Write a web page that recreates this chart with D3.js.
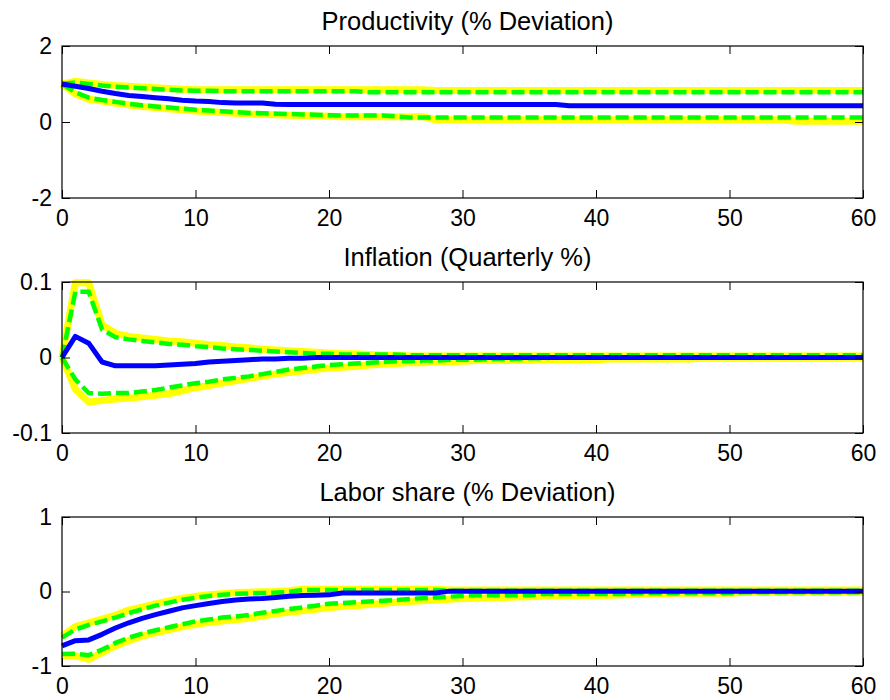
<!DOCTYPE html>
<html>
<head>
    <meta charset="utf-8" />
    <title>Impulse responses</title>
    <script src="https://d3js.org/d3.v7.min.js"></script>
    <style>
        body { margin: 0; background: #fff; }
        text { font-family: "Liberation Sans", Arial, sans-serif; fill: #000; }
    </style>
</head>
<body>
    <svg id="chart" width="890" height="700"></svg>

    <script>
        // horizon 0..60 (quarters)
        var horizon = d3.range(0, 61);
        var xTicks = [0, 10, 20, 30, 40, 50, 60];

        var titles = ["Productivity (% Deviation)", "Inflation (Quarterly %)", "Labor share (% Deviation)"];

        // --- productivity ---
        var prodMedian = [1.00, 0.94, 0.88, 0.81, 0.75, 0.70, 0.67, 0.64, 0.61, 0.57,
            0.55, 0.54, 0.51, 0.50, 0.50, 0.50, 0.47, 0.46, 0.46, 0.46,
            0.46, 0.46, 0.46, 0.46, 0.46, 0.46, 0.46, 0.46, 0.46, 0.46,
            0.46, 0.46, 0.46, 0.46, 0.46, 0.46, 0.46, 0.46, 0.43, 0.43,
            0.43, 0.43, 0.43, 0.43, 0.43, 0.43, 0.43, 0.43, 0.43, 0.43,
            0.43, 0.43, 0.43, 0.43, 0.43, 0.43, 0.43, 0.43, 0.43, 0.43, 0.43];
        var prodGreenHi = [1.00, 1.04, 1.00, 0.96, 0.93, 0.91, 0.89, 0.87, 0.85, 0.83,
            0.82, 0.82, 0.81, 0.81, 0.81, 0.81, 0.81, 0.81, 0.81, 0.81,
            0.81, 0.81, 0.81, 0.78, 0.78, 0.78, 0.78, 0.78, 0.78, 0.78,
            0.78, 0.78, 0.78, 0.78, 0.78, 0.78, 0.78, 0.78, 0.78, 0.78,
            0.78, 0.78, 0.78, 0.78, 0.78, 0.78, 0.78, 0.78, 0.78, 0.78,
            0.78, 0.78, 0.78, 0.78, 0.78, 0.78, 0.78, 0.78, 0.78, 0.78, 0.78];
        var prodGreenLo = [1.00, 0.78, 0.64, 0.58, 0.53, 0.48, 0.44, 0.41, 0.38, 0.35,
            0.32, 0.30, 0.28, 0.26, 0.24, 0.23, 0.22, 0.21, 0.20, 0.19,
            0.18, 0.17, 0.17, 0.17, 0.17, 0.15, 0.12, 0.12, 0.12, 0.12,
            0.12, 0.12, 0.12, 0.12, 0.12, 0.12, 0.12, 0.12, 0.12, 0.12,
            0.12, 0.12, 0.12, 0.12, 0.12, 0.12, 0.12, 0.12, 0.12, 0.12,
            0.12, 0.12, 0.12, 0.12, 0.12, 0.12, 0.12, 0.12, 0.12, 0.12, 0.12];
        var prodYellowHi = [1.00, 1.07, 1.03, 0.99, 0.96, 0.94, 0.92, 0.90, 0.88, 0.86,
            0.85, 0.85, 0.85, 0.85, 0.85, 0.85, 0.85, 0.85, 0.85, 0.85,
            0.85, 0.85, 0.85, 0.85, 0.85, 0.85, 0.85, 0.85, 0.83, 0.83,
            0.83, 0.83, 0.83, 0.83, 0.83, 0.83, 0.83, 0.83, 0.83, 0.83,
            0.83, 0.83, 0.83, 0.83, 0.83, 0.83, 0.83, 0.83, 0.83, 0.83,
            0.83, 0.83, 0.83, 0.83, 0.83, 0.83, 0.83, 0.83, 0.83, 0.83, 0.83];
        var prodYellowLo = [1.00, 0.74, 0.60, 0.55, 0.50, 0.45, 0.41, 0.38, 0.35, 0.32,
            0.29, 0.27, 0.25, 0.23, 0.21, 0.20, 0.19, 0.18, 0.17, 0.16,
            0.15, 0.14, 0.14, 0.14, 0.14, 0.14, 0.14, 0.14, 0.06, 0.06,
            0.06, 0.06, 0.06, 0.06, 0.06, 0.06, 0.06, 0.06, 0.06, 0.06,
            0.06, 0.06, 0.06, 0.06, 0.06, 0.06, 0.06, 0.06, 0.06, 0.06,
            0.06, 0.06, 0.06, 0.06, 0.06, 0.02, 0.02, 0.02, 0.02, 0.02, 0.02];

        // --- inflation ---
        var inflMedian = [0, 0.028, 0.019, -0.006, -0.011, -0.011, -0.011, -0.011, -0.010, -0.009,
            -0.008, -0.006, -0.005, -0.004, -0.003, -0.002, -0.002, -0.001, -0.001, 0,
            0, 0, 0, 0, 0, 0, 0, 0, 0, 0,
            0, 0, 0, 0, 0, 0, 0, 0, 0, 0,
            0, 0, 0, 0, 0, 0, 0, 0, 0, 0,
            0, 0, 0, 0, 0, 0, 0, 0, 0, 0, 0];
        var inflGreenHi = [0, 0.087, 0.087, 0.037, 0.027, 0.024, 0.022, 0.020, 0.018, 0.017,
            0.015, 0.014, 0.012, 0.011, 0.010, 0.009, 0.008, 0.007, 0.006, 0.005,
            0.005, 0.004, 0.004, 0.004, 0.004, 0.004, 0.003, 0.003, 0.003, 0.003,
            0.003, 0.003, 0.003, 0.003, 0.003, 0.003, 0.003, 0.003, 0.003, 0.003,
            0.003, 0.003, 0.003, 0.003, 0.003, 0.003, 0.003, 0.003, 0.003, 0.003,
            0.003, 0.003, 0.003, 0.003, 0.003, 0.003, 0.003, 0.003, 0.003, 0.003, 0.003];
        var inflGreenLo = [0, -0.029, -0.047, -0.048, -0.047, -0.047, -0.045, -0.043, -0.040, -0.037,
            -0.034, -0.032, -0.029, -0.027, -0.025, -0.022, -0.019, -0.016, -0.014, -0.012,
            -0.010, -0.009, -0.008, -0.007, -0.006, -0.005, -0.005, -0.004, -0.004, -0.003,
            -0.003, -0.003, -0.002, -0.002, -0.002, -0.001, -0.001, 0, 0, 0,
            0, 0, 0, 0, 0, 0, 0, 0, 0, 0,
            0, 0, 0, 0, 0, 0, 0, 0, 0, 0, 0];
        var inflYellowHi = [0, 0.099, 0.099, 0.043, 0.032, 0.028, 0.026, 0.024, 0.022, 0.021,
            0.019, 0.017, 0.016, 0.014, 0.013, 0.011, 0.010, 0.009, 0.008, 0.007,
            0.006, 0.005, 0.005, 0.004, 0.003, 0.003, 0.002, 0.002, 0.002, 0.002,
            0.002, 0.002, 0.002, 0.002, 0.002, 0.002, 0.002, 0.002, 0.002, 0.002,
            0.002, 0.002, 0.002, 0.002, 0.002, 0.002, 0.002, 0.002, 0.002, 0.002,
            0.002, 0.002, 0.002, 0.002, 0.002, 0.002, 0.002, 0.002, 0.002, 0.002, 0.002];
        var inflYellowLo = [0, -0.042, -0.059, -0.057, -0.055, -0.054, -0.052, -0.050, -0.048, -0.044,
            -0.040, -0.037, -0.034, -0.031, -0.028, -0.025, -0.022, -0.020, -0.018, -0.016,
            -0.014, -0.013, -0.012, -0.010, -0.009, -0.008, -0.007, -0.007, -0.006, -0.006,
            -0.005, -0.004, -0.004, -0.004, -0.004, -0.004, -0.003, -0.003, -0.003, -0.003,
            -0.003, -0.002, -0.002, -0.002, -0.002, -0.002, -0.002, -0.002, -0.001, -0.001,
            -0.001, -0.001, -0.001, -0.001, -0.001, -0.001, -0.001, -0.001, -0.001, -0.001, -0.001];

        // --- labor share ---
        var laborMedian = [-0.73, -0.66, -0.65, -0.575, -0.49, -0.42, -0.36, -0.31, -0.265, -0.22,
            -0.19, -0.16, -0.135, -0.115, -0.10, -0.095, -0.08, -0.065, -0.055, -0.05,
            -0.045, -0.02, -0.02, -0.02, -0.02, -0.02, -0.02, -0.02, -0.02, 0.005,
            0.005, 0.005, 0.005, 0.005, 0.005, 0.005, 0.005, 0.005, 0.005, 0.005,
            0.005, 0.005, 0.005, 0.005, 0.005, 0.005, 0.005, 0.005, 0.005, 0.005,
            0.005, 0.005, 0.005, 0.005, 0.005, 0.005, 0.005, 0.005, 0.005, 0.005, 0.005];
        var laborGreenHi = [-0.62, -0.51, -0.45, -0.40, -0.35, -0.29, -0.24, -0.19, -0.15, -0.11,
            -0.085, -0.06, -0.045, -0.03, -0.025, -0.02, -0.015, -0.005, 0.02, 0.02,
            0.02, 0.02, 0.02, 0.02, 0.02, 0.02, 0.02, 0.02, 0.02, 0.01,
            0.01, 0.01, 0.01, 0.01, 0.01, 0.01, 0.01, 0.01, 0.01, 0.01,
            0.01, 0.01, 0.01, 0.01, 0.01, 0.01, 0.01, 0.01, 0.01, 0.01,
            0.01, 0.01, 0.01, 0.01, 0.01, 0.01, 0.01, 0.01, 0.01, 0.01, 0.01];
        var laborGreenLo = [-0.84, -0.835, -0.855, -0.78, -0.69, -0.62, -0.565, -0.52, -0.48, -0.44,
            -0.40, -0.375, -0.35, -0.335, -0.315, -0.285, -0.26, -0.235, -0.215, -0.19,
            -0.165, -0.155, -0.145, -0.135, -0.125, -0.115, -0.10, -0.09, -0.08, -0.07,
            -0.06, -0.05, -0.05, -0.05, -0.05, -0.05, -0.035, -0.035, -0.035, -0.035,
            -0.035, -0.035, -0.035, -0.02, -0.02, -0.02, -0.02, -0.02, -0.02, -0.02,
            -0.02, -0.01, -0.01, -0.01, -0.01, -0.01, -0.01, -0.01, -0.01, -0.01, -0.01];
        var laborYellowHi = [-0.60, -0.47, -0.42, -0.37, -0.32, -0.25, -0.21, -0.165, -0.125, -0.09,
            -0.065, -0.045, -0.03, -0.015, -0.01, -0.005, 0.00, 0.01, 0.03, 0.03,
            0.03, 0.03, 0.03, 0.03, 0.03, 0.03, 0.03, 0.03, 0.03, 0.02,
            0.02, 0.02, 0.02, 0.02, 0.02, 0.02, 0.02, 0.02, 0.02, 0.02,
            0.02, 0.02, 0.02, 0.02, 0.02, 0.02, 0.02, 0.02, 0.02, 0.02,
            0.02, 0.02, 0.02, 0.02, 0.02, 0.02, 0.02, 0.02, 0.02, 0.02, 0.02];
        var laborYellowLo = [-0.86, -0.865, -0.91, -0.82, -0.73, -0.66, -0.60, -0.555, -0.515, -0.475,
            -0.44, -0.415, -0.395, -0.38, -0.36, -0.33, -0.30, -0.28, -0.26, -0.24,
            -0.215, -0.20, -0.19, -0.175, -0.16, -0.145, -0.135, -0.125, -0.115, -0.105,
            -0.095, -0.09, -0.085, -0.08, -0.075, -0.07, -0.065, -0.06, -0.06, -0.055,
            -0.055, -0.05, -0.045, -0.04, -0.035, -0.03, -0.025, -0.025, -0.025, -0.025,
            -0.025, -0.015, -0.015, -0.015, -0.015, -0.015, -0.01, -0.01, -0.01, -0.01, -0.01];

        var yDomains = [[-2, 2], [-0.1, 0.1], [-1, 1]];
        var yTicks = [[-2, 0, 2], [-0.1, 0, 0.1], [-1, 0, 1]];

        var panels = [
            { title: titles[0], yDomain: yDomains[0], yTicks: yTicks[0],
              yellow: [prodYellowHi, prodYellowLo], green: [prodGreenHi, prodGreenLo], median: prodMedian },
            { title: titles[1], yDomain: yDomains[1], yTicks: yTicks[1],
              yellow: [inflYellowHi, inflYellowLo], green: [inflGreenHi, inflGreenLo], median: inflMedian },
            { title: titles[2], yDomain: yDomains[2], yTicks: yTicks[2],
              yellow: [laborYellowHi, laborYellowLo], green: [laborGreenHi, laborGreenLo], median: laborMedian }
        ];

        // panel boxes (top, bottom) in pixels
        var boxes = [[46, 198], [282, 433], [517, 666]];
        var left = 62, right = 863;

        var svg = d3.select("#chart");

        var x = d3.scaleLinear().domain([0, 60]).range([left, right]);

        panels.forEach(function (p, i) {
            var top = boxes[i][0], bottom = boxes[i][1];
            var y = d3.scaleLinear().domain(p.yDomain).range([bottom, top]);
            var g = svg.append("g");

            var line = d3.line()
                .x(function (d, k) { return x(horizon[k]); })
                .y(function (d) { return y(d); });

            //yellow bands
            p.yellow.forEach(function (s) {
                g.append("path").attr("d", line(s))
                    .attr("fill", "none").attr("stroke", "#ffff00")
                    .attr("stroke-width", 7).attr("stroke-linejoin", "round");
            });

            //green dashed bands
            p.green.forEach(function (s) {
                g.append("path").attr("d", line(s))
                    .attr("fill", "none").attr("stroke", "#00ff00")
                    .attr("stroke-width", 4.5).attr("stroke-dasharray", "13,5");
            });

            //median
            g.append("path").attr("d", line(p.median))
                .attr("fill", "none").attr("stroke", "#0000ff")
                .attr("stroke-width", 5).attr("stroke-linejoin", "round");

            // axes, ticks pointing inward on all four sides
            var tickLen = 8;
            g.append("g").attr("transform", "translate(0," + bottom + ")")
                .call(d3.axisBottom(x).tickValues(xTicks).tickSizeInner(-tickLen).tickSizeOuter(0).tickPadding(12))
                .call(styleAxis);
            g.append("g").attr("transform", "translate(0," + top + ")")
                .call(d3.axisTop(x).tickValues(xTicks).tickSizeInner(-tickLen).tickSizeOuter(0).tickFormat(""))
                .call(styleAxis);
            g.append("g").attr("transform", "translate(" + left + ",0)")
                .call(d3.axisLeft(y).tickValues(p.yTicks).tickSizeInner(-tickLen).tickSizeOuter(0).tickPadding(10)
                    .tickFormat(function (d) { return String(d); }))
                .call(styleAxis);
            g.append("g").attr("transform", "translate(" + right + ",0)")
                .call(d3.axisRight(y).tickValues(p.yTicks).tickSizeInner(-tickLen).tickSizeOuter(0).tickFormat(""))
                .call(styleAxis);

            g.append("rect").attr("x", left).attr("y", top)
                .attr("width", right - left).attr("height", bottom - top)
                .attr("fill", "none").attr("stroke", "#000").attr("stroke-width", 1.2);

            g.append("text").attr("x", (left + right) / 2 + 5).attr("y", top - 16)
                .attr("text-anchor", "middle").style("font-size", "25.5px")
                .text(p.title);
        });

        function styleAxis(sel) {
            sel.select(".domain").remove();
            sel.selectAll(".tick line").attr("stroke", "#000").attr("stroke-width", 1);
            sel.selectAll(".tick text").style("font-size", "23px")
                .style("font-family", "'Liberation Sans', Arial, sans-serif").attr("fill", "#000");
        }
    </script>
</body>
</html>
